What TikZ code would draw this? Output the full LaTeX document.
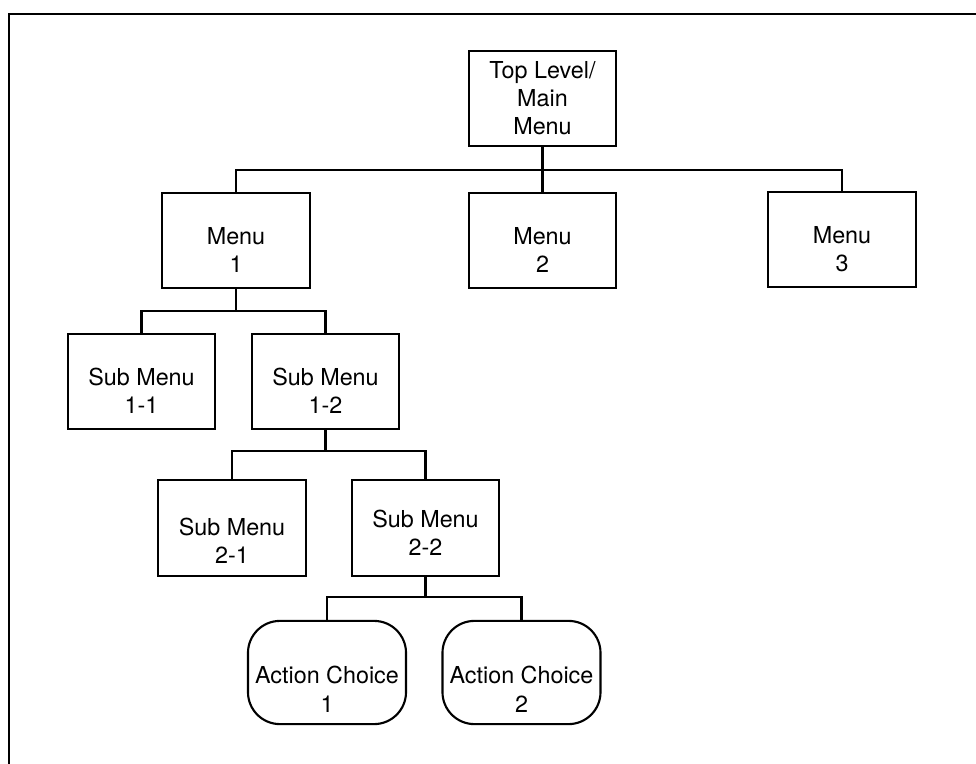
\documentclass[tikz,border=0pt]{standalone}
\usepackage{fontspec}
\setmainfont{TeX Gyre Heros}
\usetikzlibrary{positioning}

\tikzset{
  menubox/.style={draw,line width=1.5pt,minimum width=3.68cm,minimum height=2.38cm,align=center,inner sep=2pt},
  lowtext/.style={execute at begin node={\rule{0pt}{#1}}},
  lowtext/.default=1.6cm,
  actionbox/.style={menubox,lowtext=1.98cm,rounded corners=0.8cm,minimum width=3.95cm,minimum height=2.58cm},
  link/.style={line width=1.5pt}
}

\begin{document}
\begin{tikzpicture}[x=0.025cm,y=-0.025cm,font=\fontsize{16.6pt}{20pt}\selectfont]
  \useasboundingbox (0,0) rectangle (976,764);
  % frame
  \draw[line width=2pt] (9,764) -- (9,14) -- (976,14);

  % menus
  \node[menubox] (top) at (542.5,98.5) {Top Level/\\Main\\Menu};
  \node[menubox,lowtext] (m1) at (236,240.5) {Menu\\1};
  \node[menubox,lowtext] (m2) at (542.5,240.5) {Menu\\2};
  \node[menubox,lowtext] (m3) at (842,239.5) {Menu\\3};
  \node[menubox,lowtext] (s11) at (141.5,381.5) {Sub Menu\\1-1};
  \node[menubox,lowtext] (s12) at (325.5,381.5) {Sub Menu\\1-2};
  \node[menubox,lowtext=1.78cm] (s21) at (232,528) {Sub Menu\\2-1};
  \node[menubox,lowtext=1.38cm] (s22) at (425.5,528) {Sub Menu\\2-2};
  \node[actionbox] (a1) at (327,672.5) {Action Choice\\1};
  \node[actionbox] (a2) at (521.5,672.5) {Action Choice\\2};

  % connectors
  \coordinate (j0) at (542.5,170);
  \coordinate (j1) at (236,311);
  \coordinate (j2) at (325.5,451);
  \coordinate (j3) at (425.5,597);
  \draw[link] (top) -- (j0);
  \draw[link] (m1.north) |- (j0) -| (m3.north);
  \draw[link] (j0) -- (m2);
  \draw[link] (m1) -- (j1);
  \draw[link] (s11.north) |- (j1) -| (s12.north);
  \draw[link] (s12) -- (j2);
  \draw[link] (s21.north) |- (j2) -| (s22.north);
  \draw[link] (s22) -- (j3);
  \draw[link] (a1.north) |- (j3) -| (a2.north);
\end{tikzpicture}
\end{document}
